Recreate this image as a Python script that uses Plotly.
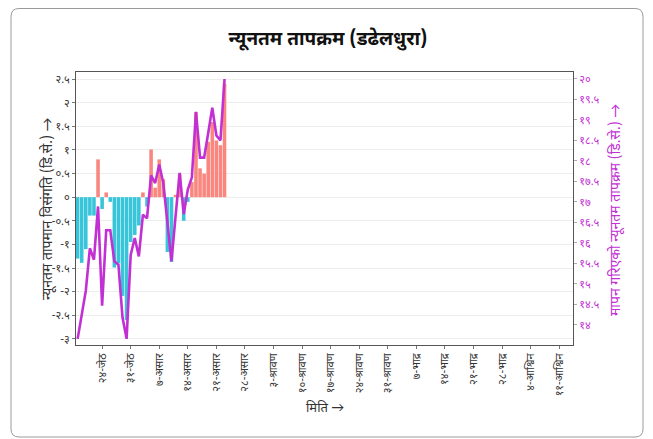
import plotly.graph_objects as go

# ---- data (day offset relative to 24-जेठ) ----
days = list(range(-6, 31))
anomaly = [-1.30, -1.39, -1.10, -0.39, -0.39, 0.80, -0.25, 0.10, -0.10, -1.49,
           -1.40, -2.09, -2.60, -0.95, -0.80, -0.60, 0.10, -0.20, 1.01, 0.20,
           0.80, 0.38, -1.16, -1.37, 0.05, 0.49, -0.50, -0.10, 0.32, 1.80,
           0.61, 0.50, 1.17, 1.59, 1.20, 1.10, 2.40]
measured = [13.66, 14.30, 14.83, 15.87, 15.59, 16.89, 14.47, 16.31, 16.31, 15.55,
            15.47, 14.18, 13.66, 15.71, 16.12, 15.67, 16.69, 16.60, 17.65, 17.46,
            17.91, 17.46, 16.57, 15.55, 16.65, 17.71, 16.70, 17.30, 17.60, 19.20,
            18.08, 18.08, 18.68, 19.30, 18.62, 18.50, 20.00]

x_tickvals = [0, 7, 14, 21, 28, 35, 42, 49, 56, 63, 70, 77, 84, 91, 98, 105, 112]
x_ticktext = ["२४-जेठ", "३१-जेठ", "७-असार", "१४-असार", "२१-असार", "२८-असार",
              "३-श्रावण", "१०-श्रावण", "१७-श्रावण", "२४-श्रावण", "३१-श्रावण",
              "७-भाद्र", "१४-भाद्र", "२१-भाद्र", "२८-भाद्र", "४-आश्विन", "११-आश्विन"]
y1_tickvals = [-3, -2.5, -2, -1.5, -1, -0.5, 0, 0.5, 1, 1.5, 2, 2.5]
y1_ticktext = ["-३", "-२.५", "-२", "-१.५", "-१", "-०.५", "०", "०.५", "१", "१.५", "२", "२.५"]
y2_tickvals = [14, 14.5, 15, 15.5, 16, 16.5, 17, 17.5, 18, 18.5, 19, 19.5, 20]
y2_ticktext = ["१४", "१४.५", "१५", "१५.५", "१६", "१६.५", "१७", "१७.५", "१८", "१८.५", "१९", "१९.५", "२०"]

TITLE = "न्यूनतम तापक्रम (डढेलधुरा)"
Y1_TITLE = "न्यूनतम तापमान विसंगति (डि.से.) →"
Y2_TITLE = "मापन गरिएको न्यूनतम तापक्रम (डि.से.) →"
X_TITLE = "मिति →"

# ---- styles ----
POS = "#F9877F"
NEG = "#38C5DA"
LINE = "#C230D4"
FONT = "Noto Sans Devanagari, Noto Sans, Lato, sans-serif"

OFF = 8  # page body margin
W, H = 645, 431
# plot area in screen coordinates: x 76..573, y 72..345
ML = 76 - OFF
MT = 72 - OFF
MR = W - (573 - OFF)
MB = H - (345 - OFF)
PW = W - ML - MR
PH = H - MT - MB

def px(xs):
    return (xs - OFF - ML) / PW

def py(ys):
    return (H - MB - (ys - OFF)) / PH

colors = [POS if v >= 0 else NEG for v in anomaly]

fig = go.Figure()
fig.add_trace(go.Bar(x=days, y=anomaly, marker=dict(color=colors, line=dict(width=0)),
                     yaxis="y", showlegend=False))
fig.add_trace(go.Scatter(x=days, y=measured, mode="lines", yaxis="y2",
                         line=dict(color=LINE, width=2.6), showlegend=False))

# outer rounded border (screen coords)
x0, x1, y0, y1, r = 11, 643, 8.5, 437, 8
path = (f"M {px(x0+r)},{py(y0)} L {px(x1-r)},{py(y0)} Q {px(x1)},{py(y0)} {px(x1)},{py(y0+r)} "
        f"L {px(x1)},{py(y1-r)} Q {px(x1)},{py(y1)} {px(x1-r)},{py(y1)} "
        f"L {px(x0+r)},{py(y1)} Q {px(x0)},{py(y1)} {px(x0)},{py(y1-r)} "
        f"L {px(x0)},{py(y0+r)} Q {px(x0)},{py(y0)} {px(x0+r)},{py(y0)} Z")

fig.update_layout(
    width=W, height=H, autosize=False,
    margin=dict(l=ML, r=MR, t=MT, b=MB),
    paper_bgcolor="white", plot_bgcolor="white",
    font=dict(family=FONT, color="#333"),
    bargap=0.12,
    title=dict(text=f"<b>{TITLE}</b>", x=(328 - OFF) / W, xref="container",
               y=1 - (38 - OFF) / H, yref="container", yanchor="middle", xanchor="center",
               font=dict(size=19, color="#111", family=FONT)),
    xaxis=dict(range=[-6.4, 115.4], tickvals=x_tickvals, ticktext=x_ticktext,
               tickangle=-90, ticks="outside", ticklen=3, tickcolor="#777",
               showgrid=False, zeroline=False, showline=True, linecolor="#555",
               linewidth=1, mirror=True, tickfont=dict(size=11, color="#333")),
    yaxis=dict(range=[-3.13, 2.65], tickvals=y1_tickvals, ticktext=y1_ticktext,
               ticks="outside", ticklen=3, tickcolor="#777", showgrid=True,
               gridcolor="#EDEDED", gridwidth=1, zeroline=False, showline=True,
               linecolor="#555", linewidth=1, mirror=True,
               tickfont=dict(size=11, color="#333")),
    yaxis2=dict(range=[13.51, 20.17], tickvals=y2_tickvals, ticktext=y2_ticktext,
                overlaying="y", side="right", ticks="outside", ticklen=3,
                tickcolor="#aaa", showgrid=False, zeroline=False, showline=False,
                tickfont=dict(size=11, color=LINE)),
    shapes=[dict(type="path", path=path, xref="paper", yref="paper",
                 line=dict(color="#9a9a9a", width=1), layer="below")],
    annotations=[
        dict(text=Y1_TITLE, x=px(48), y=py(209), xref="paper", yref="paper",
             textangle=-90, showarrow=False, xanchor="center", yanchor="middle",
             font=dict(size=14, color="#333", family=FONT)),
        dict(text=Y2_TITLE, x=px(616), y=py(210), xref="paper", yref="paper",
             textangle=-90, showarrow=False, xanchor="center", yanchor="middle",
             font=dict(size=14, color=LINE, family=FONT)),
        dict(text=X_TITLE, x=px(325), y=py(408), xref="paper", yref="paper",
             showarrow=False, xanchor="center", yanchor="middle",
             font=dict(size=13, color="#333", family=FONT)),
    ],
)

fig.write_html("out.html")
